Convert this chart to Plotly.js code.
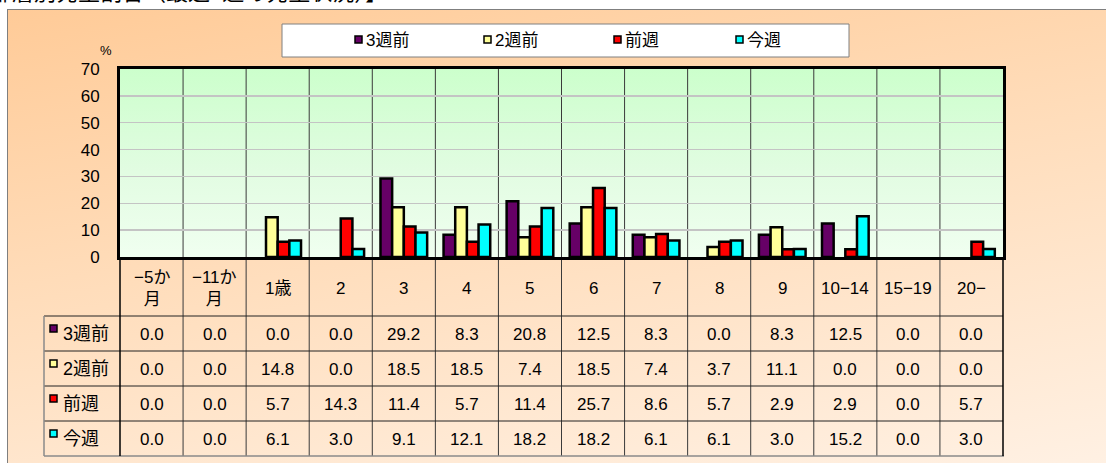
<!DOCTYPE html>
<html>
<head>
<meta charset="utf-8">
<script src="https://cdn.plot.ly/plotly-3.0.1.min.js"></script>
<style>
  html, body { margin: 0; padding: 0; background: #ffffff; }
  #wrap { position: relative; width: 1106px; height: 463px; overflow: hidden; }
  #outerbg { position: absolute; left: 7px; top: 9px; width: 1110px; height: 460px;
    border-left: 1px solid #7f7f7f; border-top: 1px solid #7f7f7f;
    background: linear-gradient(170deg, #FFCB98 0%, #FFDDBB 45%, #FFF1E4 100%); }
  #plotbg { position: absolute; left: 120px; top: 69px; width: 883px; height: 188px;
    background: linear-gradient(180deg, #CCFFCC 0%, #E2FCE2 55%, #F0FFF0 100%); }
  #chart { position: absolute; left: 0; top: 0; width: 1106px; height: 463px; }
</style>
</head>
<body>
<div id="wrap">
  <div id="outerbg"></div>
  <div id="plotbg"></div>
  <div id="chart"></div>
</div>
<script>
// ---- data ----
const categories = ["−5か<br>月", "−11か<br>月", "1歳", "2", "3", "4", "5", "6", "7", "8", "9", "10−14", "15−19", "20−"];
const seriesNames = ["3週前", "2週前", "前週", "今週"];
const week3ago = [0.0, 0.0, 0.0, 0.0, 29.2, 8.3, 20.8, 12.5, 8.3, 0.0, 8.3, 12.5, 0.0, 0.0];
const week2ago = [0.0, 0.0, 14.8, 0.0, 18.5, 18.5, 7.4, 18.5, 7.4, 3.7, 11.1, 0.0, 0.0, 0.0];
const lastWeek = [0.0, 0.0, 5.7, 14.3, 11.4, 5.7, 11.4, 25.7, 8.6, 5.7, 2.9, 2.9, 0.0, 5.7];
const thisWeek = [0.0, 0.0, 6.1, 3.0, 9.1, 12.1, 18.2, 18.2, 6.1, 6.1, 3.0, 15.2, 0.0, 3.0];
const seriesValues = [week3ago, week2ago, lastWeek, thisWeek];
const seriesColors = ["#660066", "#FFFF99", "#FF0000", "#00FFFF"];
const titleText = "【年齢層別発生割合（最近4週の発生状況）】";

// ---- geometry helpers (pixel -> paper) ----
const W = 1106, H = 463;
const M = {l: 120, r: 103, t: 69, b: 206};
const PW = W - M.l - M.r, PH = H - M.t - M.b;
const px = x => (x - M.l) / PW;
const py = y => (H - M.b - y) / PH;

const FONT = "Liberation Sans, Arial, Noto Sans CJK JP, sans-serif";
const JFONT = "Liberation Sans, Noto Sans CJK JP, sans-serif";

const traces = seriesValues.map((vals, k) => ({
  type: "bar",
  name: seriesNames[k],
  x: categories,
  y: vals,
  marker: {color: seriesColors[k], line: {color: "#000000", width: vals.map(v => v > 0 ? 2.5 : 0)}},
  showlegend: false,
  hoverinfo: "x+y+name"
}));

const shapes = [];
const annotations = [];

// title (clipped at top, as in the original)
annotations.push({xref: "paper", yref: "paper", x: px(-56), y: py(-7.5), xanchor: "left", yanchor: "middle",
  text: titleText, showarrow: false, font: {family: JFONT, size: 22, color: "#000"}});

// percent label
annotations.push({xref: "paper", yref: "paper", x: px(106), y: py(50), xanchor: "center", yanchor: "middle",
  text: "%", showarrow: false, font: {family: FONT, size: 13, color: "#000"}});

// legend box
shapes.push({type: "rect", xref: "paper", yref: "paper", x0: px(282), x1: px(849), y0: py(57), y1: py(24),
  fillcolor: "#FFFFFF", line: {color: "#808080", width: 1}, layer: "above"});
const legX = [355, 484, 614, 736];
seriesNames.forEach((nm, k) => {
  shapes.push({type: "rect", xref: "paper", yref: "paper", x0: px(legX[k]), x1: px(legX[k] + 7),
    y0: py(43), y1: py(36), fillcolor: seriesColors[k], line: {color: "#000", width: 1.5}, layer: "above"});
  annotations.push({xref: "paper", yref: "paper", x: px(legX[k] + 9), y: py(40.5), xanchor: "left", yanchor: "middle",
    text: nm, showarrow: false, font: {family: JFONT, size: 17, color: "#000"}});
});

// category separators through plot and table
for (let i = 1; i < categories.length; i++) {
  shapes.push({type: "line", xref: "x", yref: "paper", x0: i - 0.5, x1: i - 0.5, y0: py(456), y1: 1,
    line: {color: "#3a3a3a", width: 1}, layer: "below"});
}
// table frame
const rowTops = [316, 351, 386, 421];
rowTops.forEach(y => shapes.push({type: "line", xref: "paper", yref: "paper", x0: px(44), x1: px(1003),
  y0: py(y), y1: py(y), line: {color: "#222", width: 1}}));
shapes.push({type: "line", xref: "paper", yref: "paper", x0: px(44), x1: px(1004), y0: py(456), y1: py(456),
  line: {color: "#8a8a8a", width: 1.5}});
shapes.push({type: "line", xref: "paper", yref: "paper", x0: px(44), x1: px(44), y0: py(456), y1: py(316),
  line: {color: "#8a8a8a", width: 1.5}});
shapes.push({type: "line", xref: "paper", yref: "paper", x0: px(120), x1: px(120), y0: py(456), y1: 0,
  line: {color: "#000", width: 1.5}});
shapes.push({type: "line", xref: "paper", yref: "paper", x0: px(1003), x1: px(1003), y0: py(456), y1: 0,
  line: {color: "#000", width: 1.5}});

// header labels
categories.forEach((c, i) => {
  annotations.push({xref: "x", yref: "paper", x: i, y: py(288), xanchor: "center", yanchor: "middle",
    text: c, showarrow: false, font: {family: JFONT, size: 17, color: "#000"}});
});

// row headers and values
const rowCenters = [334, 369, 404, 439];
seriesNames.forEach((nm, k) => {
  const yc = rowCenters[k];
  shapes.push({type: "rect", xref: "paper", yref: "paper", x0: px(50), x1: px(57), y0: py(yc - 2), y1: py(yc - 9),
    fillcolor: seriesColors[k], line: {color: "#000", width: 1.5}});
  annotations.push({xref: "paper", yref: "paper", x: px(61), y: py(yc), xanchor: "left", yanchor: "middle",
    text: nm, showarrow: false, font: {family: JFONT, size: 18, color: "#000"}});
  seriesValues[k].forEach((v, i) => {
    annotations.push({xref: "x", yref: "paper", x: i, y: py(yc), xanchor: "center", yanchor: "middle",
      text: v.toFixed(1), showarrow: false, font: {family: FONT, size: 17, color: "#000"}});
  });
});

const layout = {
  width: W, height: H,
  margin: M,
  paper_bgcolor: "rgba(0,0,0,0)",
  plot_bgcolor: "rgba(0,0,0,0)",
  barmode: "group",
  bargap: 0.26,
  bargroupgap: 0,
  showlegend: false,
  font: {family: FONT, size: 17, color: "#000"},
  xaxis: {type: "category", range: [-0.5, 13.5], showticklabels: false, ticks: "", showgrid: false,
    showline: true, linecolor: "#000", linewidth: 3, mirror: true, zeroline: false, fixedrange: true},
  yaxis: {range: [0, 70], dtick: 10, tick0: 0, showgrid: true, gridcolor: "#C4C4C4", gridwidth: 1.5,
    showline: true, linecolor: "#000", linewidth: 3, mirror: true, zeroline: false, ticks: "",
    ticklabelstandoff: 14, tickfont: {family: FONT, size: 17, color: "#000"}, fixedrange: true},
  shapes: shapes,
  annotations: annotations
};

Plotly.newPlot("chart", traces, layout, {displayModeBar: false, staticPlot: true});
</script>
</body>
</html>
